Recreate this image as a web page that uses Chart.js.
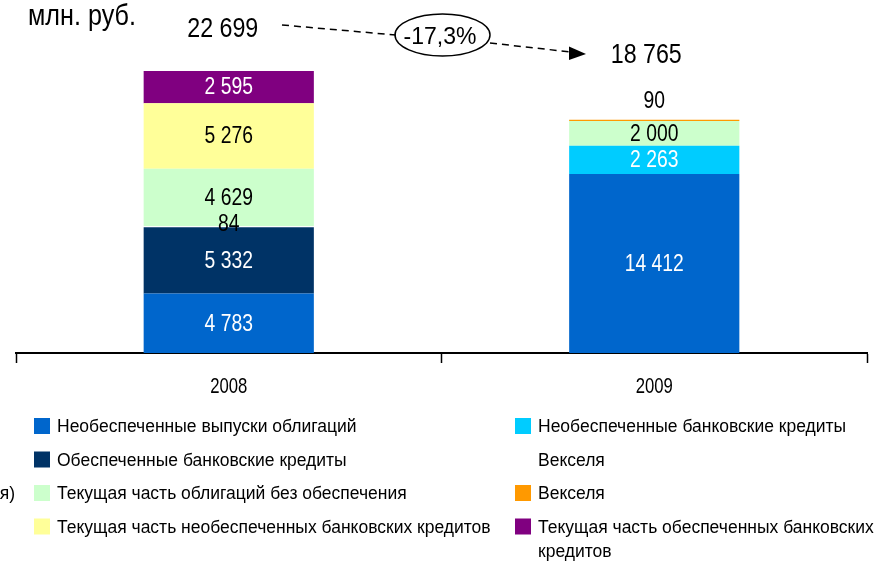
<!DOCTYPE html>
<html><head><meta charset="utf-8">
<script src="https://cdn.jsdelivr.net/npm/chart.js@4.4.1/dist/chart.umd.min.js"></script>
<style>html,body{margin:0;padding:0;background:#fff;overflow:hidden}#wrap{width:876px;height:562px}</style>
</head><body><div id="wrap"><canvas id="c" width="876" height="562"></canvas></div>
<script>
// ---- data ----
const categories = ['2008', '2009'];
const seriesNames = [
  'Необеспеченные выпуски облигаций',
  'Необеспеченные банковские кредиты',
  'Обеспеченные банковские кредиты',
  'Векселя',
  'Текущая часть облигаций без обеспечения',
  'Векселя',
  'Текущая часть необеспеченных банковских кредитов',
  'Текущая часть обеспеченных банковских кредитов'
];
const unsecuredBonds        = [4783, 14412];
const unsecuredLoans        = [0, 2263];
const securedLoans          = [5332, 0];
const billsA                = [84, 0];
const currentBonds          = [4629, 2000];
const billsB                = [0, 90];
const currentUnsecuredLoans = [5276, 0];
const currentSecuredLoans   = [2595, 0];
const totals = [22699, 18765];
const changeLabel = '-17,3%';
const unitLabel = 'млн. руб.';
const clippedLegendText = 'я)';

const seriesValues = [unsecuredBonds, unsecuredLoans, securedLoans, billsA, currentBonds, billsB, currentUnsecuredLoans, currentSecuredLoans];
const seriesColors = ['#0066CC', '#00CCFF', '#003366', '#FFFFFF', '#CCFFCC', '#FF9900', '#FFFF99', '#800080'];
const labelColors  = ['#FFFFFF', '#FFFFFF', '#FFFFFF', '#000000', '#000000', '#000000', '#000000', '#FFFFFF'];

const FONT = '"Liberation Sans", Arial, sans-serif';
function fmt(n) { return String(n).replace(/\B(?=(\d{3})+(?!\d))/g, ' '); }
// draw text with its digit-centre at y, optionally condensed horizontally
function txt(ctx, s, x, y, size, sx, align, color) {
  ctx.save();
  ctx.font = size + 'px ' + FONT;
  ctx.fillStyle = color;
  ctx.textBaseline = 'alphabetic';
  ctx.textAlign = align;
  ctx.translate(x, y + 0.358 * size);
  ctx.scale(sx, 1);
  ctx.fillText(s, 0, 0);
  ctx.restore();
}

const valueLabels = {
  id: 'valueLabels',
  afterDatasetsDraw(chart) {
    const ctx = chart.ctx;
    const n = chart.data.labels.length;
    for (let j = 0; j < n; j++) {
      let topIdx = -1;
      chart.data.datasets.forEach((ds, i) => { if (ds.data[j] > 0) topIdx = i; });
      chart.data.datasets.forEach((ds, i) => {
        const v = ds.data[j];
        if (!v) return;
        const el = chart.getDatasetMeta(i).data[j];
        const mid = (el.y + el.base) / 2;
        let y;
        if (v < 300) {
          y = (i === topIdx) ? el.y - 20 : mid - 4;
        } else {
          y = mid - 1;
        }
        txt(ctx, fmt(v), el.x, y, 23, 0.84, 'center', labelColors[i]);
      });
    }
  }
};

const decorations = {
  id: 'decorations',
  afterDraw(chart) {
    const ctx = chart.ctx;
    const xs = chart.scales.x;
    const area = chart.chartArea;
    chart.data.labels.forEach((lab, i) => {
      txt(ctx, lab, xs.getPixelForValue(i), area.bottom + 32, 22, 0.76, 'center', '#000');
    });
    txt(ctx, unitLabel, 28, 14, 30, 0.84, 'left', '#000');
    const m0 = chart.getDatasetMeta(0).data;
    txt(ctx, fmt(totals[0]), m0[0].x - 6, 27, 28, 0.83, 'center', '#000');
    txt(ctx, fmt(totals[1]), m0[1].x - 8, 53, 28, 0.83, 'center', '#000');
    ctx.save();
    ctx.strokeStyle = '#000';
    ctx.lineWidth = 1.5;
    ctx.setLineDash([7, 5]);
    ctx.beginPath(); ctx.moveTo(282, 25); ctx.lineTo(396, 35); ctx.stroke();
    ctx.beginPath(); ctx.moveTo(490, 43); ctx.lineTo(571, 52); ctx.stroke();
    ctx.setLineDash([]);
    ctx.beginPath(); ctx.ellipse(442.5, 35, 47.5, 21, 0, 0, Math.PI * 2); ctx.stroke();
    ctx.fillStyle = '#000';
    ctx.beginPath(); ctx.moveTo(586, 54); ctx.lineTo(569, 46.5); ctx.lineTo(569, 60); ctx.closePath(); ctx.fill();
    ctx.restore();
    txt(ctx, changeLabel, 440, 36, 23, 1, 'center', '#000');

    // legend (two columns, row-major order)
    const colX = [34, 515];
    const rowY0 = 426, rowStep = 33.5, sw = 16, gap = 23, lsize = 17.5;
    chart.data.datasets.forEach((ds, i) => {
      const col = i % 2, row = Math.floor(i / 2);
      const x = colX[col], cy = rowY0 + row * rowStep;
      ctx.fillStyle = ds.backgroundColor;
      ctx.fillRect(x, cy - sw / 2, sw, sw);
      ctx.font = lsize + 'px ' + FONT;
      const maxW = 876 - (x + gap) + 4;
      const words = ds.label.split(' ');
      const lines = [];
      let cur = '';
      words.forEach(w => {
        const t = cur ? cur + ' ' + w : w;
        if (ctx.measureText(t).width > maxW && cur) { lines.push(cur); cur = w; } else cur = t;
      });
      lines.push(cur);
      lines.forEach((ln, k) => txt(ctx, ln, x + gap, cy + k * 24, lsize, 1, 'left', '#000'));
    });
    txt(ctx, clippedLegendText, 15, rowY0 + 2 * rowStep, lsize, 1, 'right', '#000');
  }
};

new Chart(document.getElementById('c'), {
  type: 'bar',
  data: {
    labels: categories,
    datasets: seriesValues.map((vals, i) => ({
      label: seriesNames[i],
      data: vals,
      backgroundColor: seriesColors[i],
      borderWidth: 0,
      barPercentage: 0.4,
      categoryPercentage: 1
    }))
  },
  options: {
    responsive: false,
    animation: false,
    devicePixelRatio: 1,
    layout: { padding: { left: 16, right: 9, top: 20, bottom: 0 } },
    plugins: { legend: { display: false }, tooltip: { enabled: false } },
    scales: {
      x: {
        stacked: true,
        grid: { offset: true, drawOnChartArea: false, drawTicks: true, tickLength: 10, tickColor: '#000', tickWidth: 1.5 },
        border: { display: true, color: '#000', width: 2 },
        ticks: { display: false },
        afterFit(s) { s.height = 562 - 353; }
      },
      y: { stacked: true, display: false, min: 0, max: 26800 }
    }
  },
  plugins: [valueLabels, decorations]
});
</script>
</body></html>
